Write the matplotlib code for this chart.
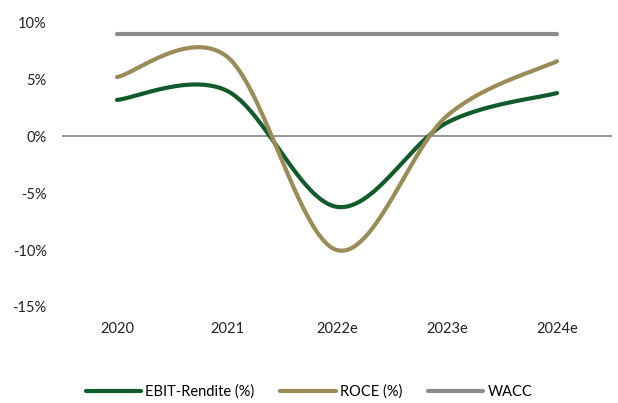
import numpy as np
import matplotlib
matplotlib.use("Agg")
import matplotlib.pyplot as plt
from matplotlib.ticker import FuncFormatter

categories = ["2020", "2021", "2022e", "2023e", "2024e"]
ebit = [3.2, 4.0, -6.2, 1.2, 3.8]
roce = [5.2, 7.0, -10.0, 1.8, 6.6]
wacc = [9.0, 9.0, 9.0, 9.0, 9.0]

def smooth(x, y, n=60):
    x = np.asarray(x, float); y = np.asarray(y, float)
    P = np.column_stack([x, y])
    out = []
    N = len(P)
    for i in range(N - 1):
        p0 = P[i - 1] if i > 0 else P[i]
        p1 = P[i]; p2 = P[i + 1]
        p3 = P[i + 2] if i + 2 < N else P[i + 1]
        c1 = p1 + (p2 - p0) / 6.0
        c2 = p2 - (p3 - p1) / 6.0
        t = np.linspace(0, 1, n)[:, None]
        seg = (1 - t) ** 3 * p1 + 3 * (1 - t) ** 2 * t * c1 + 3 * (1 - t) * t ** 2 * c2 + t ** 3 * p2
        out.append(seg if i == 0 else seg[1:])
    s = np.vstack(out)
    return s[:, 0], s[:, 1]

plt.rcParams['font.family'] = ['Lato', 'DejaVu Sans']
fig = plt.figure(figsize=(6.18, 4.03), dpi=100)
ax = fig.add_axes([62/618, 1 - 307/403, 550/618, (307 - 22.5)/403])

x = np.arange(len(categories))
green = "#115A2B"
olive = "#9A8C56"
gray = "#8C8C8C"
lw = 3.0
for vals, col, lab in [(ebit, green, "EBIT-Rendite (%)"), (roce, olive, "ROCE (%)"), (wacc, gray, "WACC")]:
    sx, sy = smooth(x, vals)
    ax.plot(sx, sy, color=col, lw=lw, solid_capstyle='round', label=lab, zorder=3)

ax.axhline(0, color="#8C8C8C", lw=1.3, zorder=1)
ax.set_xlim(-0.5, len(categories) - 0.5)
ax.set_ylim(-15, 10)
ax.set_yticks(np.arange(-15, 11, 5))
ax.yaxis.set_major_formatter(FuncFormatter(lambda v, p: f"{int(v)}%"))
ax.set_xticks(x)
ax.set_xticklabels(categories)
for s in ax.spines.values():
    s.set_visible(False)
ax.tick_params(length=0, labelsize=10.5, colors="#222222")
ax.tick_params(axis='x', pad=11)
ax.tick_params(axis='y', pad=11)

leg = fig.legend(loc='center', bbox_to_anchor=(0.5, 1 - 392/403), ncol=3, frameon=False,
                 fontsize=10.5, handlelength=3.8, columnspacing=1.75, handletextpad=0.3)
fig.savefig("out.png", dpi=100)
